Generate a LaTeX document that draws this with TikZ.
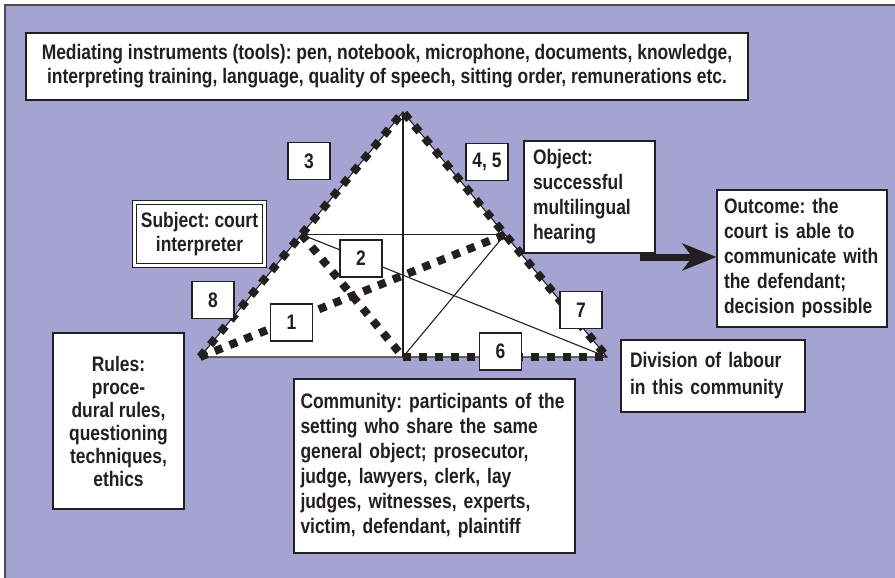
\documentclass[tikz,border=0pt]{standalone}
\usepackage{fontspec}
\setmainfont{Liberation Sans}[FakeStretch=0.83]
\usetikzlibrary{arrows.meta}
\definecolor{bgpurple}{RGB}{165,163,209}
\definecolor{ink}{RGB}{35,31,32}
\begin{document}
\frenchspacing
\begin{tikzpicture}[x=1pt,y=-1pt,
  box/.style={draw=ink, line width=1.2pt, fill=white, text=ink, inner sep=0pt,
    font=\fontsize{21}{24}\selectfont\bfseries},
  numbox/.style={box, minimum width=42pt, minimum height=37pt},
  thinline/.style={draw=ink, line width=1.1pt},
  dotline/.style={draw=ink, line width=8pt, dash pattern=on 8pt off 8pt},
  bigarrow/.style={draw=ink, line width=7pt,
    -{Stealth[length=34pt,width=27pt,inset=10pt]}},
]
\useasboundingbox (0,0) rectangle (895,578);
\clip (0,0) rectangle (895,578);
\fill[white] (0,0) rectangle (895,578);
\draw[fill=bgpurple, draw=ink!80, line width=1.5pt] (5,5) rectangle (905,590);

% triangle points
\coordinate (A) at (200,357);
\coordinate (B) at (403,112);
\coordinate (C) at (607,357);
\coordinate (M) at (403,357);
\coordinate (L) at (301.5,234.5);
\coordinate (R) at (505,234.5);

\fill[white] (A) -- (B) -- (C) -- cycle;
\draw[thinline] (A) -- (B) -- (C) -- cycle;
\draw[thinline] (B) -- (M);
\draw[thinline] (L) -- (R);
\draw[thinline] (L) -- (C);
\draw[thinline] (R) -- (M);
\draw[dotline] (A) -- (B) -- (C);
\draw[dotline] (M) -- (C);
\draw[dotline] (L) -- (M);
\draw[dotline] (A) -- (R);

% text boxes
\node[box, minimum width=722pt, minimum height=67pt, align=center] (med) at (387,66.5)
  {Mediating instruments (tools): pen, notebook, microphone, documents, knowledge,\\
   interpreting training, language, quality of speech, sitting order, remunerations etc.};

\node[box, line width=1.4pt, double=white, double distance=2.5pt, minimum width=130pt,
  minimum height=63pt, align=center] (subj) at (199.5,234) {Subject: court\\interpreter};

\node[box, minimum width=131pt, minimum height=112pt, text width=113pt, align=left,
  font=\fontsize{21}{25}\selectfont\bfseries] (obj) at (589.5,197)
  {Object:\\successful\\multilingual\\hearing};

\node[box, minimum width=170pt, minimum height=137pt, text width=156pt, align=left,
  font=\fontsize{21}{25}\selectfont\bfseries] (out) at (802,258.5)
  {Outcome: the\\court is able to\\communicate with\\the defendant;\\decision possible};

\node[box, minimum width=184pt, minimum height=72pt, text width=166pt, align=left,
  font=\fontsize{21}{27}\selectfont\bfseries] (div) at (713,376)
  {Division of labour\\in this community};

\node[box, minimum width=131pt, minimum height=176pt, align=center,
  font=\fontsize{21}{23}\selectfont\bfseries] (rules) at (118.5,421)
  {Rules:\\proce-\\dural rules,\\questioning\\techniques,\\ethics};

\node[box, minimum width=281pt, minimum height=174pt, text width=268pt, align=left,
  font=\fontsize{21}{25}\selectfont\bfseries] (comm) at (434.5,466)
  {Community: participants of the\\setting who share the same\\general object; prosecutor,\\judge, lawyers, clerk, lay\\judges, witnesses, experts,\\victim, defendant, plaintiff};

% number boxes
\node[numbox] (n3) at (309,161) {3};
\node[numbox] (n45) at (487,162) {4, 5};
\node[numbox] (n8) at (213,300) {8};
\node[numbox] (n2) at (361,258.5) {2};
\node[numbox] (n1) at (291.5,322.5) {1};
\node[numbox] (n7) at (581,310) {7};
\node[numbox] (n6) at (500.5,351.5) {6};

% arrow
\coordinate (astart) at (640,257);
\draw[bigarrow] (astart) -- (out.west |- astart);
\end{tikzpicture}
\end{document}
